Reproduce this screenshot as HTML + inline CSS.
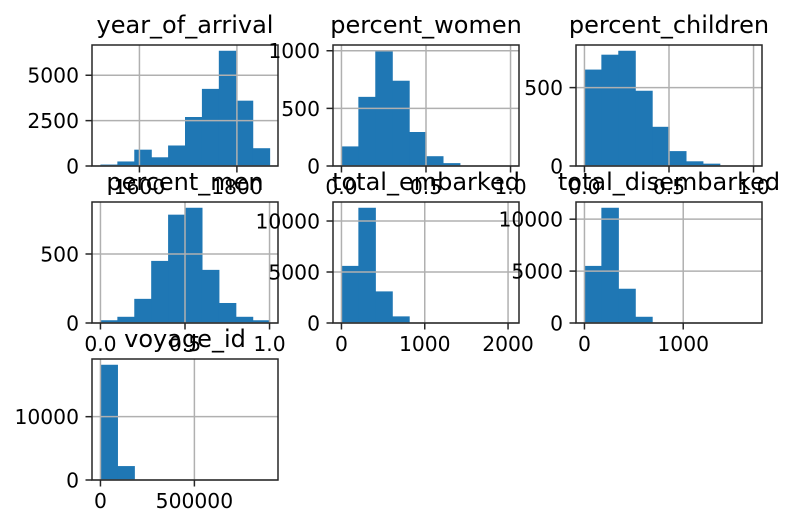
<!DOCTYPE html>
<html><head><meta charset="utf-8">
<style>
html,body{margin:0;padding:0;background:#fff;}
svg{display:block;font-family:"DejaVu Sans","Liberation Sans",sans-serif;}
</style></head>
<body>
<svg id="chart" width="794" height="527" viewBox="0 0 794 527"></svg>
<script>
// ---- data (bin counts) ----
const yearCounts = [80, 250, 900, 480, 1130, 2700, 4250, 6350, 3600, 980];
const yearRange = [1520, 1867];
const yearXTicks = [1600, 1800];
const yearYTicks = [0, 2500, 5000];

const womenCounts = [170, 600, 1000, 740, 295, 85, 25, 4, 0, 1];
const womenRange = [0, 1];
const womenXTicks = [0, 0.5, 1.0];
const womenYTicks = [0, 500, 1000];

const childrenCounts = [615, 710, 735, 480, 250, 95, 30, 15, 2, 1];
const childrenRange = [0, 1];
const childrenXTicks = [0, 0.5, 1.0];
const childrenYTicks = [0, 500];

const menCounts = [20, 45, 175, 450, 785, 835, 385, 145, 45, 20];
const menRange = [0, 1];
const menXTicks = [0, 0.5, 1.0];
const menYTicks = [0, 500];

const embarkedCounts = [5600, 11300, 3100, 650, 40, 10, 5, 2, 1, 1];
const embarkedRange = [0, 2030];
const embarkedXTicks = [0, 1000, 2000];
const embarkedYTicks = [0, 5000, 10000];

const disembarkedCounts = [5500, 11100, 3300, 600, 30, 5, 2, 1, 0, 1];
const disembarkedRange = [0, 1712];
const disembarkedXTicks = [0, 1000];
const disembarkedYTicks = [0, 5000, 10000];

const voyageCounts = [18200, 2200, 0, 0, 0, 0, 0, 0, 0, 1];
const voyageRange = [0, 900000];
const voyageXTicks = [0, 500000];
const voyageYTicks = [0, 10000];

const panelTitles = ["year_of_arrival","percent_women","percent_children","percent_men","total_embarked","total_disembarked","voyage_id"];

const NS = "http://www.w3.org/2000/svg";
const svg = document.getElementById("chart");
function mk(tag, attrs, parent){
  const e = document.createElementNS(NS, tag);
  for (const k in attrs) e.setAttribute(k, attrs[k]);
  (parent||svg).appendChild(e);
  return e;
}
function fmt(v, isFrac){
  return isFrac ? v.toFixed(1) : String(v);
}
const colX = [92, 333, 576];
const rowY = [45, 202, 359];
const W = 186, H = 121;
const TICK_FS = 20.3, TITLE_FS = 24;

function drawPanel(idx, counts, range, xt, yt, isFrac){
  const ax = colX[idx % 3], ay = rowY[Math.floor(idx / 3)];
  const slug = panelTitles[idx].replace(/_/g, "-");
  const g = mk("g", {});
  
  
  const R = range[1] - range[0];
  const x0 = range[0] - 0.05 * R, x1 = range[1] + 0.05 * R;
  const ymax = Math.max(...counts) * 1.05;
  const sx = v => ax + (v - x0) / (x1 - x0) * W;
  const sy = v => ay + H - v / ymax * H;
  const bw = R / counts.length;
  counts.forEach((c, i) => {
    if (c <= 0) return;
    const xa = sx(range[0] + i * bw), xb = sx(range[0] + (i + 1) * bw);
    const r = mk("rect", {x: xa, y: sy(c), width: xb - xa + 0.6, height: sy(0) - sy(c), fill: "#1f77b4"}, g);
    
    
  });
  xt.forEach(t => {
    const l = mk("line", {x1: sx(t), x2: sx(t), y1: ay, y2: ay + H, stroke: "#b0b0b0", "stroke-width": 1.5}, g);
    
    
  });
  yt.forEach(t => {
    const l = mk("line", {x1: ax, x2: ax + W, y1: sy(t), y2: sy(t), stroke: "#b0b0b0", "stroke-width": 1.5}, g);
    
    
  });
  const sp = mk("rect", {x: ax, y: ay, width: W, height: H, fill: "none", stroke: "#262626", "stroke-width": 1.5}, g);
  
  
  xt.forEach(t => {
    mk("line", {x1: sx(t), x2: sx(t), y1: ay + H, y2: ay + H + 6.5, stroke: "#262626", "stroke-width": 1.5}, g);
    const tx = mk("text", {x: sx(t), y: ay + H + 28, "text-anchor": "middle", "font-size": TICK_FS, fill: "#000"}, g);
    tx.textContent = fmt(t, isFrac);
    
    
  });
  yt.forEach(t => {
    mk("line", {x1: ax - 6.5, x2: ax, y1: sy(t), y2: sy(t), stroke: "#262626", "stroke-width": 1.5}, g);
    const tx = mk("text", {x: ax - 13, y: sy(t) + 7.4, "text-anchor": "end", "font-size": TICK_FS, fill: "#000"}, g);
    tx.textContent = String(t);
    
    
  });
  const title = mk("text", {x: ax + W / 2, y: ay - 12, "text-anchor": "middle", "font-size": TITLE_FS, fill: "#000"}, g);
  title.textContent = panelTitles[idx];
  
  
}

drawPanel(0, yearCounts, yearRange, yearXTicks, yearYTicks, false);
drawPanel(1, womenCounts, womenRange, womenXTicks, womenYTicks, true);
drawPanel(2, childrenCounts, childrenRange, childrenXTicks, childrenYTicks, true);
drawPanel(3, menCounts, menRange, menXTicks, menYTicks, true);
drawPanel(4, embarkedCounts, embarkedRange, embarkedXTicks, embarkedYTicks, false);
drawPanel(5, disembarkedCounts, disembarkedRange, disembarkedXTicks, disembarkedYTicks, false);
drawPanel(6, voyageCounts, voyageRange, voyageXTicks, voyageYTicks, false);
</script>
</body></html>
